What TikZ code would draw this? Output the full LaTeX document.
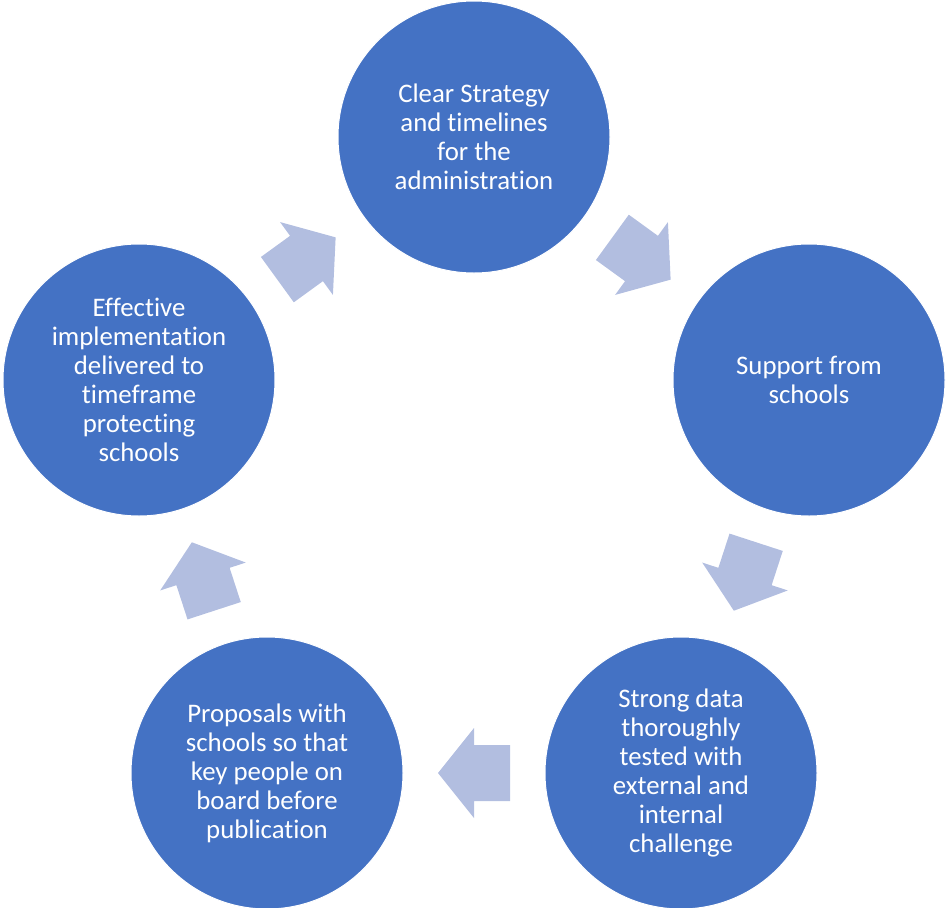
\documentclass[tikz,border=0pt]{standalone}
\usepackage{fontspec}
\setmainfont[Ligatures={NoCommon}]{Carlito}
\definecolor{circblue}{RGB}{68,114,196}
\definecolor{arrowblue}{RGB}{178,190,224}
\tikzset{
  x=1pt, y=1pt,
  stage/.style={circle, fill=circblue, draw=white, line width=1pt, minimum size=272pt, inner sep=0pt,
    text=white, align=center, font=\fontsize{26.8}{29}\selectfont},
  blockarrow/.pic={
    \fill[arrowblue] (36,0) -- (0,45) -- (0,28) -- (-36,28) -- (-36,-28) -- (0,-28) -- (0,-45) -- cycle;
  }
}
\begin{document}
\begin{tikzpicture}
\useasboundingbox (0,0) rectangle (946,-908);
\node[stage] (s1) at (474,-137) {Clear Strategy\\and timelines\\for the\\administration};
\node[stage] (s2) at (809,-380) {Support from\\schools};
\node[stage] (s3) at (681,-773) {Strong data\\thoroughly\\tested with\\external and\\internal\\challenge};
\node[stage] (s4) at (267,-773) {Proposals with\\schools so that\\key people on\\board before\\publication};
\node[stage] (s5) at (139,-380) {Effective\\implementation\\delivered to\\timeframe\\protecting\\schools};
\path (s1.center) -- (s2.center) pic[pos=0.5, sloped, allow upside down] {blockarrow};
\path (s2.center) -- (s3.center) pic[pos=0.5, sloped, allow upside down] {blockarrow};
\path (s3.center) -- (s4.center) pic[pos=0.5, sloped, allow upside down] {blockarrow};
\path (s4.center) -- (s5.center) pic[pos=0.5, sloped, allow upside down] {blockarrow};
\path (s5.center) -- (s1.center) pic[pos=0.5, sloped, allow upside down] {blockarrow};
\end{tikzpicture}
\end{document}
